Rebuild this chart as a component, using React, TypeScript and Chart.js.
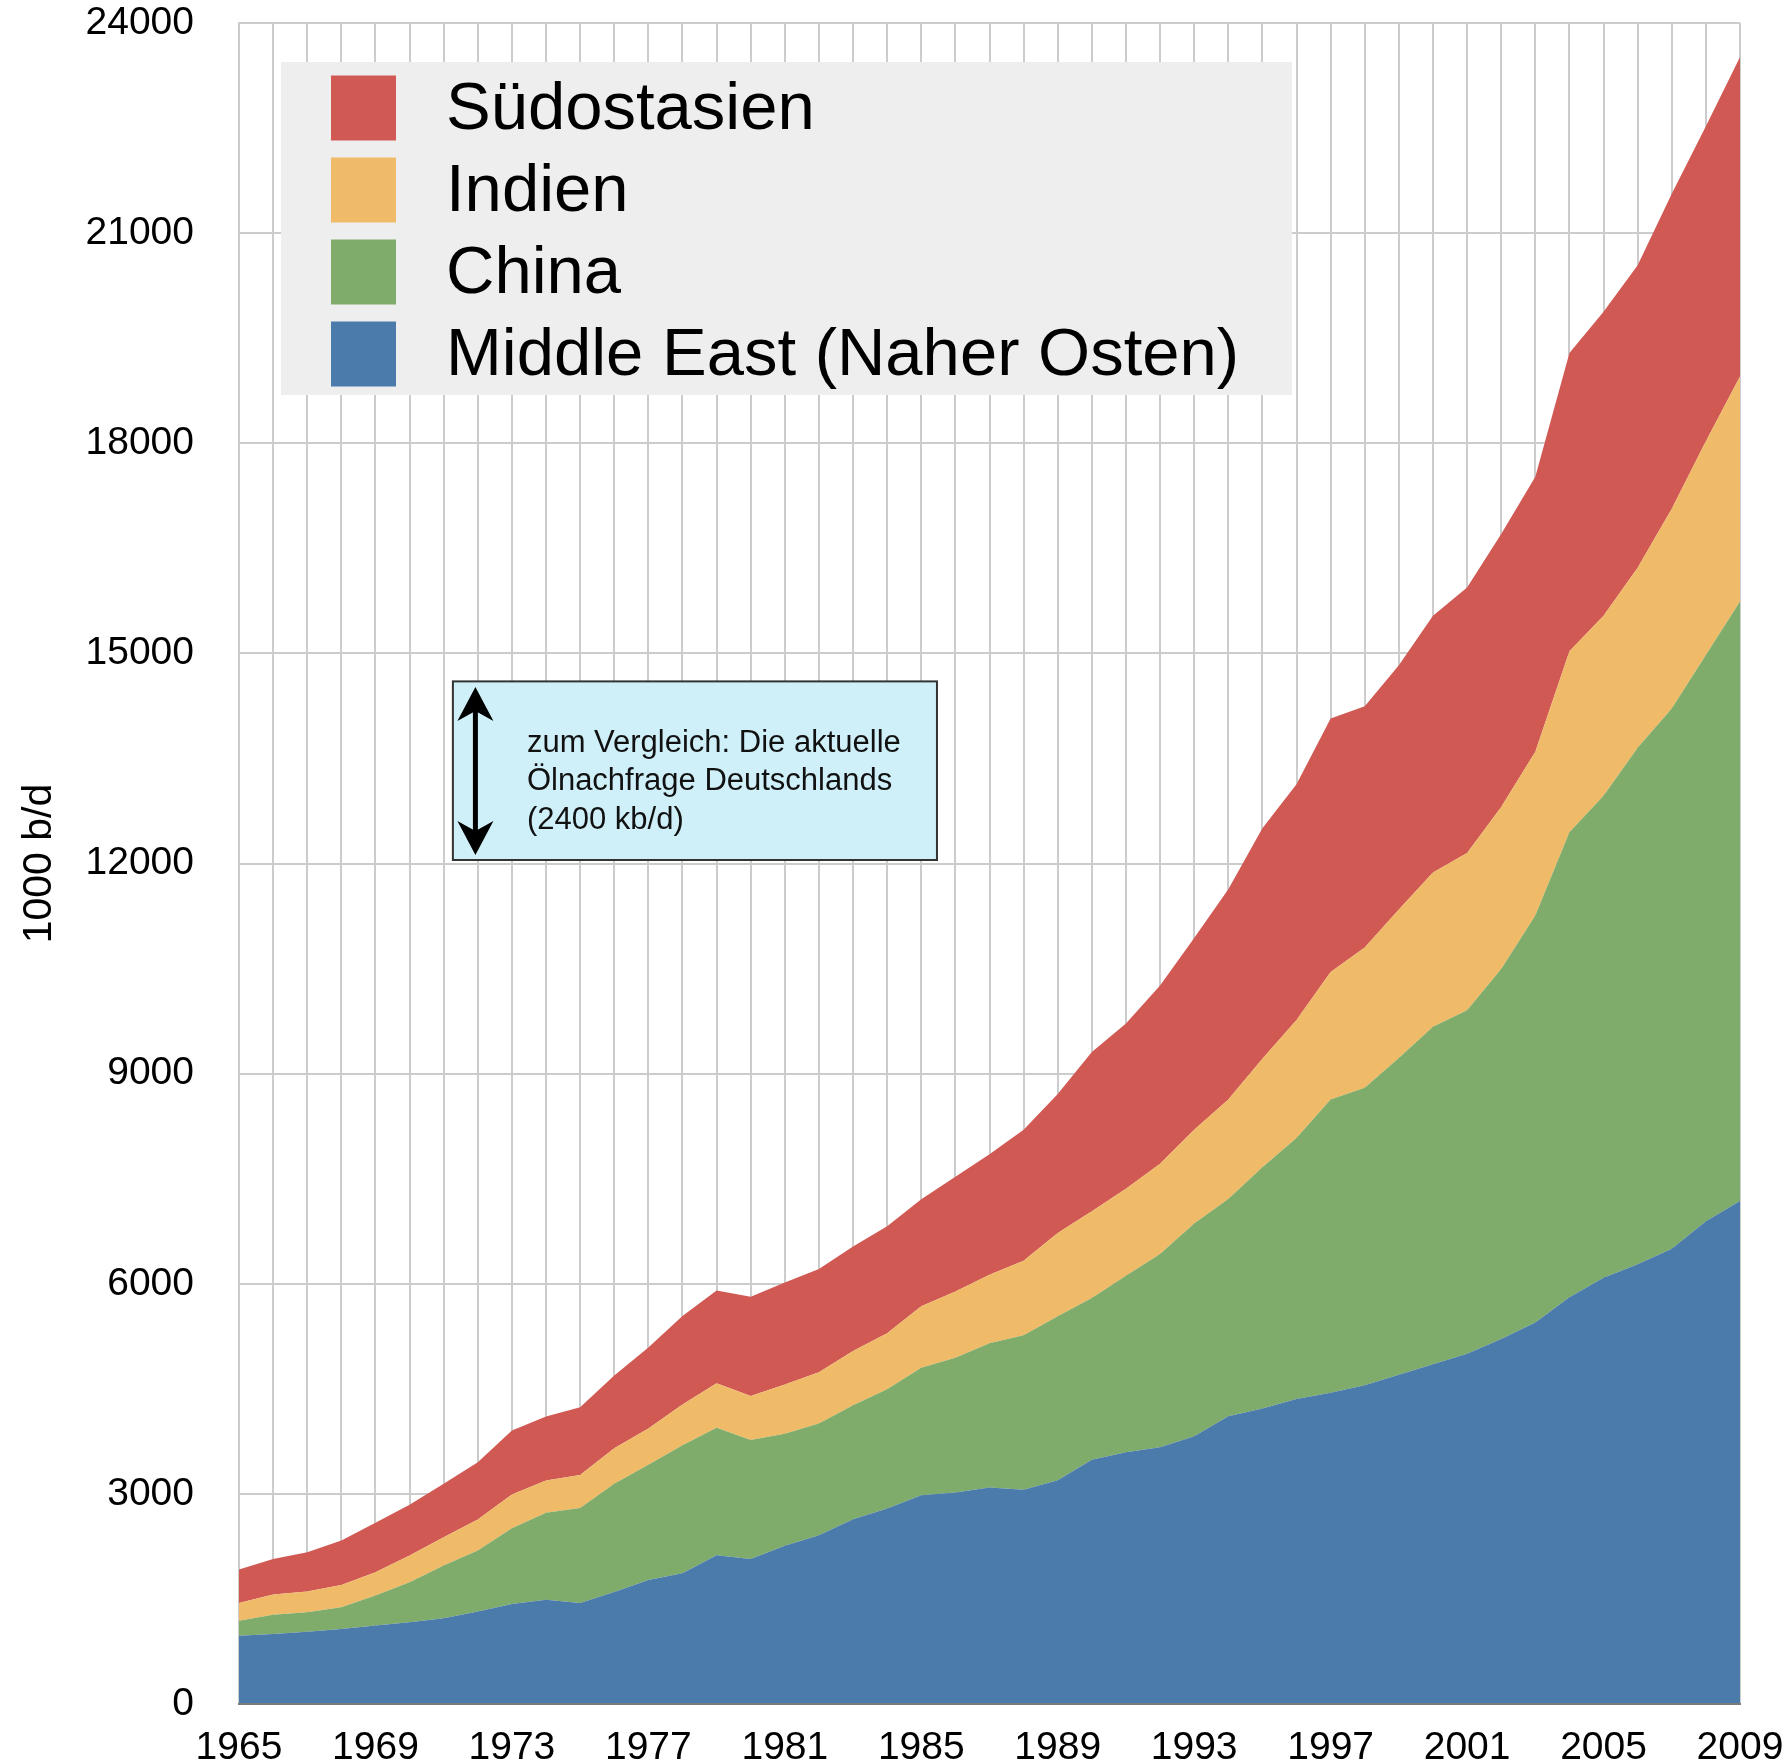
import React, { useEffect, useRef } from 'react';
import { Chart, registerables } from 'chart.js';

Chart.register(...registerables);

// ---- data (1000 b/d) ----
const years = [
  '1965', '1966', '1967', '1968', '1969', '1970', '1971', '1972', '1973', '1974', '1975',
  '1976', '1977', '1978', '1979', '1980', '1981', '1982', '1983', '1984', '1985',
  '1986', '1987', '1988', '1989', '1990', '1991', '1992', '1993', '1994', '1995',
  '1996', '1997', '1998', '1999', '2000', '2001', '2002', '2003', '2004', '2005',
  '2006', '2007', '2008', '2009',
];

const middleEast = [
  976, 1000, 1033, 1071, 1119, 1167, 1224, 1319, 1429, 1490, 1443,
  1600, 1770, 1866, 2125, 2070, 2260, 2410, 2636, 2790, 2980,
  3020, 3090, 3060, 3195, 3487, 3595, 3665, 3823, 4110, 4220,
  4356, 4442, 4550, 4700, 4850, 5000, 5212, 5448, 5809, 6084,
  6280, 6500, 6892, 7183,
];

const china = [
  214, 276, 277, 310, 429, 571, 752, 871, 1081, 1239, 1357,
  1545, 1645, 1829, 1818, 1700, 1598, 1596, 1629, 1705, 1821,
  1922, 2060, 2205, 2341, 2310, 2521, 2761, 3038, 3100, 3445,
  3725, 4190, 4250, 4524, 4821, 4906, 5283, 5808, 6637, 6884,
  7371, 7713, 8084, 8556,
];

const indien = [
  253, 286, 295, 319, 333, 381, 405, 443, 480, 461, 471,
  505, 517, 580, 637, 628, 705, 731, 774, 800, 878,
  949, 980, 1064, 1190, 1239, 1239, 1287, 1336, 1422, 1548,
  1684, 1820, 2000, 2119, 2199, 2244, 2312, 2339, 2586, 2570,
  2570, 2851, 3052, 3213,
];

const suedostasien = [
  476, 509, 562, 633, 705, 724, 762, 819, 915, 915, 967,
  1040, 1158, 1263, 1324, 1416, 1456, 1475, 1493, 1525, 1526,
  1635, 1720, 1868, 1984, 2274, 2361, 2545, 2738, 3000, 3290,
  3367, 3619, 3445, 3488, 3668, 3790, 3896, 3927, 4257, 4338,
  4321, 4498, 4498, 4562,
];

const seriesLabels = ['Middle East (Naher Osten)', 'China', 'Indien', 'Südostasien'];
const seriesColors = ['#4a7baa', '#7fab6b', '#efbb68', '#d15954'];

const yMin = 0;
const yMax = 24000;
const yStep = 3000;
const xLabelEvery = 4;
const yTitle = '1000 b/d';

const noteLines = ['zum Vergleich: Die aktuelle', 'Ölnachfrage Deutschlands', '(2400 kb/d)'];
const germanyDemand = 2400;

const FONT = '"Liberation Sans", Arial, Helvetica, sans-serif';

const legendPlugin = {
  id: 'boxLegend',
  afterDraw(chart: any) {
    const ctx = chart.ctx;
    ctx.save();
    ctx.fillStyle = '#eeeeee';
    ctx.fillRect(281, 62, 1011, 333);
    const ds = [...chart.data.datasets].reverse();
    ds.forEach((d: any, i: number) => {
      const cy = 107.5 + i * 82;
      ctx.fillStyle = d.backgroundColor;
      ctx.fillRect(331, cy - 32, 65, 65);
      ctx.fillStyle = '#000';
      ctx.font = `67px ${FONT}`;
      ctx.textBaseline = 'middle';
      ctx.textAlign = 'left';
      ctx.fillText(d.label, 446, cy + 3);
    });
    ctx.restore();
  },
};

const notePlugin = {
  id: 'noteBox',
  afterDraw(chart: any) {
    const ctx = chart.ctx;
    const xs = chart.scales.x;
    const ys = chart.scales.y;
    const left = xs.getPixelForValue(6.27);
    const right = xs.getPixelForValue(20.46);
    const top = ys.getPixelForValue(14600);
    const bottom = ys.getPixelForValue(12050);
    ctx.save();
    ctx.fillStyle = '#cff0f9';
    ctx.fillRect(left, top, right - left, bottom - top);
    ctx.strokeStyle = '#333333';
    ctx.lineWidth = 2;
    ctx.strokeRect(left, top, right - left, bottom - top);

    // double arrow: length = Germany's demand in data units
    const ax = xs.getPixelForValue(6.93);
    const aTop = ys.getPixelForValue(12120 + germanyDemand);
    const aBot = ys.getPixelForValue(12120);
    ctx.strokeStyle = '#000';
    ctx.lineWidth = 5;
    ctx.beginPath();
    ctx.moveTo(ax, aTop + 20);
    ctx.lineTo(ax, aBot - 20);
    ctx.stroke();
    ctx.fillStyle = '#000';
    const head = (tipY: number, dir: number) => {
      ctx.beginPath();
      ctx.moveTo(ax, tipY);
      ctx.lineTo(ax + 18, tipY + dir * 34);
      ctx.lineTo(ax, tipY + dir * 24);
      ctx.lineTo(ax - 18, tipY + dir * 34);
      ctx.closePath();
      ctx.fill();
    };
    head(aTop, 1);
    head(aBot, -1);

    ctx.fillStyle = '#111';
    ctx.font = `31px ${FONT}`;
    ctx.textBaseline = 'middle';
    ctx.textAlign = 'left';
    noteLines.forEach((t, i) => {
      ctx.fillText(t, left + 74, top + 62 + i * 38.5);
    });
    ctx.restore();
  },
};

export default function App() {
  const ref = useRef<HTMLCanvasElement | null>(null);

  useEffect(() => {
    const canvas = ref.current;
    if (!canvas) return;
    const seriesData = [middleEast, china, indien, suedostasien];
    const chart = new Chart(canvas, {
      type: 'line',
      data: {
        labels: years,
        datasets: seriesData.map((d, i) => ({
          label: seriesLabels[i],
          data: d,
          backgroundColor: seriesColors[i],
          borderColor: seriesColors[i],
          borderWidth: 0,
          pointRadius: 0,
          pointHoverRadius: 0,
          tension: 0,
          fill: i === 0 ? 'origin' : '-1',
        })),
      },
      options: {
        responsive: false,
        maintainAspectRatio: false,
        animation: false,
        devicePixelRatio: 1,
        layout: { padding: { left: 0, top: 23, right: 45, bottom: 0 } },
        plugins: {
          legend: { display: false },
          tooltip: { enabled: false },
          title: { display: false },
        },
        scales: {
          x: {
            type: 'category',
            offset: false,
            grid: { color: '#cccccc', lineWidth: 2, drawTicks: false },
            border: { display: true, color: '#7a7a7a', width: 2, z: 1 },
            ticks: {
              autoSkip: false,
              maxRotation: 0,
              minRotation: 0,
              padding: 21,
              color: '#000',
              font: { family: FONT, size: 39 },
              callback: (_v: any, i: number) => (i % xLabelEvery === 0 ? years[i] : ''),
            },
            afterFit: (scale: any) => {
              scale.height = 59;
              scale.paddingLeft = 0;
              scale.paddingRight = 0;
              scale.paddingTop = 0;
              scale.paddingBottom = 0;
            },
          },
          y: {
            stacked: true,
            min: yMin,
            max: yMax,
            grid: { color: '#cccccc', lineWidth: 2, drawTicks: false },
            border: { display: true, color: '#cccccc', width: 2 },
            ticks: {
              stepSize: yStep,
              padding: 45,
              color: '#000',
              font: { family: FONT, size: 39 },
              callback: (v: any) => String(v),
            },
            title: {
              display: true,
              text: yTitle,
              color: '#000',
              font: { family: FONT, size: 41 },
              padding: { top: 15, bottom: 0 },
            },
            afterFit: (scale: any) => {
              scale.width = 239;
              scale.paddingLeft = 0;
              scale.paddingRight = 0;
              scale.paddingTop = 0;
              scale.paddingBottom = 0;
            },
          },
        },
      },
      plugins: [legendPlugin, notePlugin],
    } as any);
    return () => chart.destroy();
  }, []);

  return (
    <div style={{ position: 'absolute', left: 0, top: 0, width: 1785, height: 1763, background: '#fff' }}>
      <canvas ref={ref} width={1785} height={1763} style={{ display: 'block', width: 1785, height: 1763 }} />
    </div>
  );
}
